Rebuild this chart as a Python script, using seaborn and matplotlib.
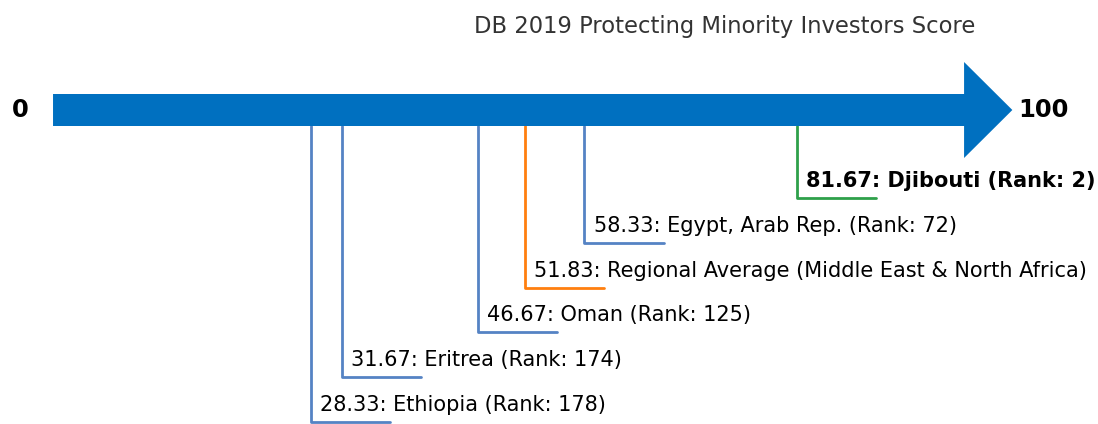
import pandas as pd
import matplotlib
matplotlib.use("Agg")
import matplotlib.pyplot as plt
import seaborn as sns

# ==============================
# Data
# ==============================
economies = ["Djibouti", "Egypt, Arab Rep.", "Regional Average (Middle East & North Africa)",
             "Oman", "Eritrea", "Ethiopia"]
scores = [81.67, 58.33, 51.83, 46.67, 31.67, 28.33]
ranks = [2, 72, None, 125, 174, 178]
line_colors = ["#2ea04a", "#5583c4", "#ff7f0e", "#5583c4", "#5583c4", "#5583c4"]
title = "DB 2019 Protecting Minority Investors Score"

sns.set_style("white")
plt.rcParams['font.family'] = ['DejaVu Sans']
plt.rcParams['text.color'] = 'black'

fig = plt.figure(figsize=(10.98, 4.24), dpi=100)
ax = fig.add_axes([0, 0, 1, 1])
ax.axis("off")

# main arrow 0 -> 100
bar_y = 110
ax.arrow(0, bar_y, 100, 0, width=32, head_width=96, head_length=5.3,
         length_includes_head=False, color="#0070c0", linewidth=0, zorder=3)
ax.text(-3.6, bar_y, "0", ha="center", va="center", fontsize=17.5, fontweight="bold")
ax.text(108.7, bar_y, "100", ha="center", va="center", fontsize=17.5, fontweight="bold")

# leader lines + labels
first_level = 198
step = 44.8
tail = 8.7
for i, (name, score, rank, col) in enumerate(zip(economies, scores, ranks, line_colors)):
    level = first_level + i * step
    seg = pd.DataFrame({"x": [score, score, score + tail],
                        "y": [bar_y + 16, level, level]})
    sns.lineplot(data=seg, x="x", y="y", sort=False, estimator=None,
                 color=col, linewidth=2, ax=ax, zorder=2)
    label = f"{score:.2f}: {name}"
    if rank is not None:
        label += f" (Rank: {rank})"
    ax.text(score + 1.0, level - 17, label, ha="left", va="center", fontsize=15,
            fontweight="bold" if i == 0 else "normal")

ax.set_xlim(-5.82, 114.7)
ax.set_ylim(424, 0)   # y in pixel-like rows, top down
ax.axis("off")
ax.text(73.7, 27, title, ha="center", va="center", fontsize=16.3, color="#333333")

fig.savefig("out.png", dpi=100)
